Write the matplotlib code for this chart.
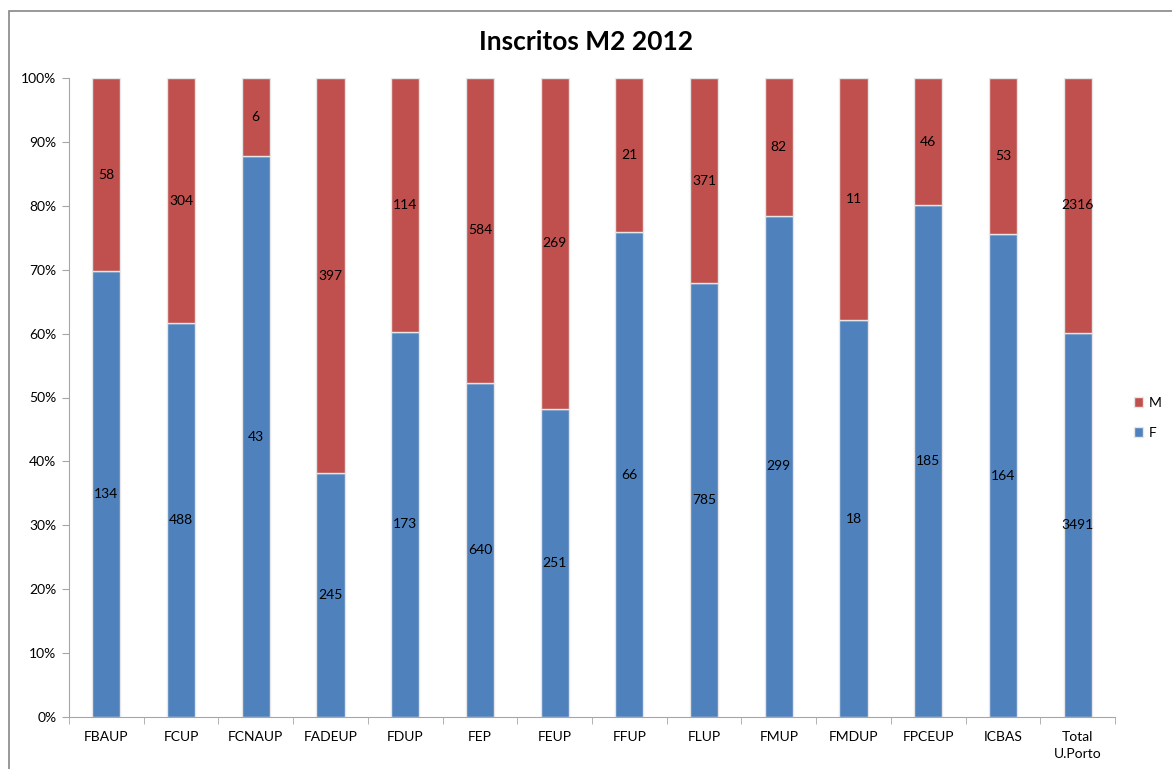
import matplotlib
matplotlib.use("Agg")
import matplotlib.pyplot as plt
from matplotlib.patches import Rectangle
from matplotlib.ticker import FuncFormatter, FixedLocator
import numpy as np

plt.rcParams['font.family'] = ['Lato', 'DejaVu Sans']

categories = ["FBAUP", "FCUP", "FCNAUP", "FADEUP", "FDUP", "FEP", "FEUP",
              "FFUP", "FLUP", "FMUP", "FMDUP", "FPCEUP", "ICBAS", "Total\nU.Porto"]
F_values = [134, 488, 43, 245, 173, 640, 251, 66, 785, 299, 18, 185, 164, 3491]
M_values = [58, 304, 6, 397, 114, 584, 269, 21, 371, 82, 11, 46, 53, 2316]

blue = "#4F81BD"
red = "#C0504D"

fig = plt.figure(figsize=(11.72, 7.69), dpi=100)
fig.patches.append(Rectangle((9/1172, -0.1), 1.2, (769-11)/769 + 0.1, transform=fig.transFigure,
                             fill=False, edgecolor="#868686", linewidth=1.2))
ax = fig.add_axes([69/1172, 1-717/769, (1115-69)/1172, (717-78)/769])

F = np.array(F_values, dtype=float)
M = np.array(M_values, dtype=float)
tot = F + M
fp = F / tot
mp = M / tot
x = np.arange(len(categories))
w = 0.375
ax.bar(x, fp, width=w, color=blue, edgecolor="#E6E6E6", linewidth=1.0, label="F")
ax.bar(x, mp, width=w, bottom=fp, color=red, edgecolor="#E6E6E6", linewidth=1.0, label="M")

for i in range(len(x)):
    ax.text(x[i], fp[i]/2, f"{F_values[i]}", ha="center", va="center", fontsize=10, color="black")
    ax.text(x[i], fp[i] + mp[i]/2, f"{M_values[i]}", ha="center", va="center", fontsize=10, color="black")

ax.set_xlim(-0.5, len(categories)-0.5)
ax.set_ylim(0, 1)
ax.yaxis.set_major_locator(FixedLocator(np.arange(0, 1.01, 0.1)))
ax.yaxis.set_major_formatter(FuncFormatter(lambda v, p: f"{int(round(v*100))}%"))
ax.set_xticks(x)
ax.set_xticklabels(categories, fontsize=10, linespacing=1.5)
ax.set_xticks(np.arange(-0.5, len(categories)), minor=True)
ax.tick_params(axis="x", which="major", length=0, pad=10)
ax.tick_params(axis="x", which="minor", length=5, color="#A6A6A6", direction="out")
ax.tick_params(axis="y", length=5, color="#A6A6A6", labelsize=10, pad=4)
for s in ["top", "right"]:
    ax.spines[s].set_visible(False)
for s in ["left", "bottom"]:
    ax.spines[s].set_color("#A6A6A6")

fig.text(0.5, 1-42/769, "Inscritos M2 2012", ha="center", va="center", fontsize=19, fontweight="bold")

h, l = ax.get_legend_handles_labels()
leg = fig.legend(h[::-1], l[::-1], loc="center left", bbox_to_anchor=(1121/1172, 1-418/769),
                 frameon=False, fontsize=10, handlelength=0.7, handleheight=0.7,
                 labelspacing=1.3, handletextpad=0.4)

fig.savefig("out.png", dpi=100)
